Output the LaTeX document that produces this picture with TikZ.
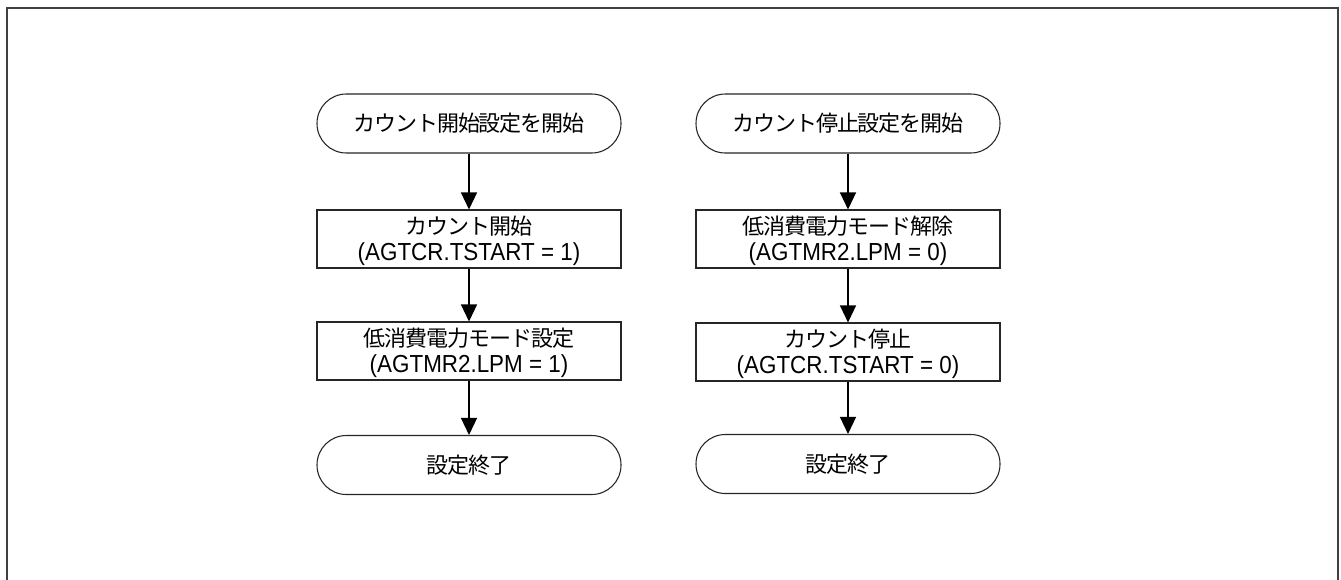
\documentclass[tikz,border=0pt]{standalone}
\usepackage{graphicx}
\usepackage{fontspec}
\setmainfont{Liberation Sans}
\newfontfamily\jp{Noto Sans CJK JP}[LetterSpace=-5]
\usetikzlibrary{arrows.meta}
\newcommand\jpsize{\fontsize{16.5pt}{19.5pt}\selectfont}
\newcommand\regline[1]{\scalebox{1}[1.1]{#1}}
\tikzset{
  term/.style={draw=black!85, line width=0.8pt, rectangle, rounded corners=22pt,
    minimum width=228pt, minimum height=44.25pt, inner sep=0pt, font=\jp\jpsize},
  procbox/.style={draw=black!85, line width=0.8pt, rectangle,
    minimum width=228pt, minimum height=43.5pt, inner sep=0pt},
  boxtext/.style={inner sep=0pt, align=center, font=\fontsize{16.8pt}{19.5pt}\selectfont, yshift=-1.7pt},
  flow/.style={line width=1pt, -{Triangle[width=12pt,length=12.75pt]}},
  frame/.style={draw=black!75, line width=1.5pt}
}
\begin{document}
\begin{tikzpicture}[x=0.75pt,y=-0.75pt]
\useasboundingbox (0,0) rectangle (1341,579);
\clip (0,0) rectangle (1341,579);
\fill[white] (0,0) rectangle (1341,579);
\draw[frame] (6.5,7.5) rectangle (1338,640);

% left column
\node[term] (ls) at (469,123.5) {カウント開始設定を開始};
\node[procbox] (l1) at (469,239) {};
\node[boxtext] (l1t) at (l1.center) {{\jp\jpsize カウント開始}\\\regline{(AGTCR.TSTART = 1)}};
\node[procbox] (l2) at (469,351) {};
\node[boxtext] (l2t) at (l2.center) {{\jp\jpsize 低消費電力モード設定}\\\regline{(AGTMR2.LPM = 1)}};
\node[term] (le) at (469,465) {設定終了};

% right column
\node[term] (rs) at (848,123.5) {カウント停止設定を開始};
\node[procbox] (r1) at (848,239) {};
\node[boxtext] (r1t) at (r1.center) {{\jp\jpsize 低消費電力モード解除}\\\regline{(AGTMR2.LPM = 0)}};
\node[procbox] (r2) at (848,352) {};
\node[boxtext] (r2t) at (r2.center) {{\jp\jpsize カウント停止}\\\regline{(AGTCR.TSTART = 0)}};
\node[term] (re) at (848,464) {設定終了};

\draw[flow] (ls) -- (l1);
\draw[flow] (l1) -- (l2);
\draw[flow] (l2) -- (le);
\draw[flow] (rs) -- (r1);
\draw[flow] (r1) -- (r2);
\draw[flow] (r2) -- (re);
\end{tikzpicture}
\end{document}
